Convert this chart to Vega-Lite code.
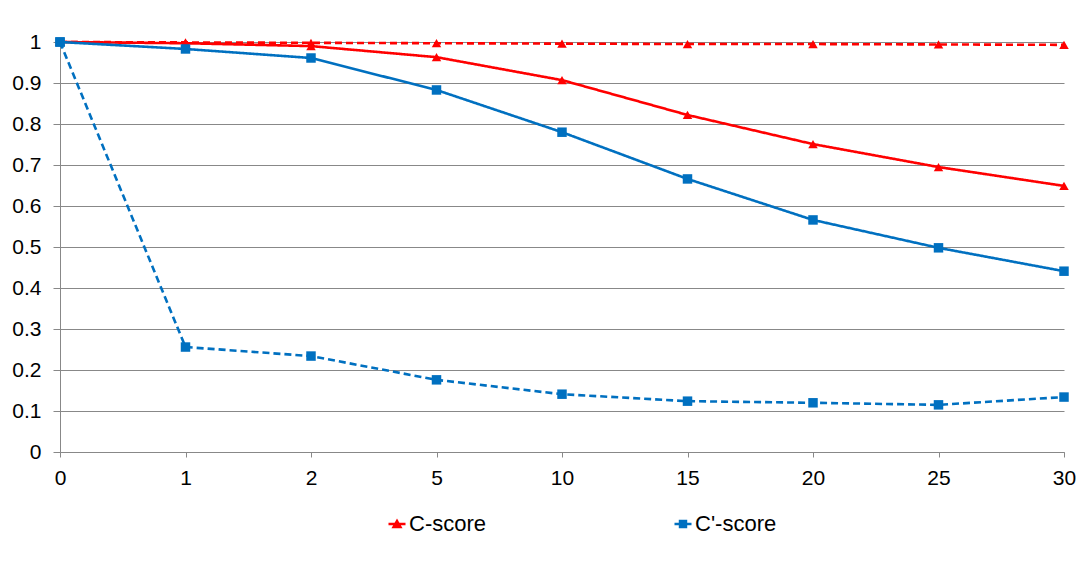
{
  "$schema": "https://vega.github.io/schema/vega-lite/v6.json",
  "autosize": "none",
  "width": 1004,
  "height": 410,
  "padding": {"left": 60, "top": 42, "right": 13, "bottom": 111},
  "background": "white",
  "config": {
    "view": {"stroke": null},
    "font": "Liberation Sans",
    "axis": {
      "labelFont": "Liberation Sans",
      "labelFontSize": 21,
      "labelColor": "#000000",
      "domainColor": "#888888",
      "tickColor": "#888888",
      "gridColor": "#888888",
      "gridOpacity": 1,
      "domainWidth": 1,
      "tickWidth": 1
    }
  },
  "data": {
    "values": [
      {"t": 0, "series": "C-score", "style": "solid", "v": 1},
      {"t": 1, "series": "C-score", "style": "solid", "v": 0.997},
      {"t": 2, "series": "C-score", "style": "solid", "v": 0.99},
      {"t": 5, "series": "C-score", "style": "solid", "v": 0.963},
      {"t": 10, "series": "C-score", "style": "solid", "v": 0.907},
      {"t": 15, "series": "C-score", "style": "solid", "v": 0.822},
      {"t": 20, "series": "C-score", "style": "solid", "v": 0.751},
      {"t": 25, "series": "C-score", "style": "solid", "v": 0.695},
      {"t": 30, "series": "C-score", "style": "solid", "v": 0.649},
      {"t": 0, "series": "C-score", "style": "dashed", "v": 1},
      {"t": 1, "series": "C-score", "style": "dashed", "v": 0.999},
      {"t": 2, "series": "C-score", "style": "dashed", "v": 0.998},
      {"t": 5, "series": "C-score", "style": "dashed", "v": 0.997},
      {"t": 10, "series": "C-score", "style": "dashed", "v": 0.996},
      {"t": 15, "series": "C-score", "style": "dashed", "v": 0.995},
      {"t": 20, "series": "C-score", "style": "dashed", "v": 0.995},
      {"t": 25, "series": "C-score", "style": "dashed", "v": 0.994},
      {"t": 30, "series": "C-score", "style": "dashed", "v": 0.993},
      {"t": 0, "series": "C'-score", "style": "solid", "v": 1},
      {"t": 1, "series": "C'-score", "style": "solid", "v": 0.983},
      {"t": 2, "series": "C'-score", "style": "solid", "v": 0.961},
      {"t": 5, "series": "C'-score", "style": "solid", "v": 0.883},
      {"t": 10, "series": "C'-score", "style": "solid", "v": 0.78},
      {"t": 15, "series": "C'-score", "style": "solid", "v": 0.666},
      {"t": 20, "series": "C'-score", "style": "solid", "v": 0.566},
      {"t": 25, "series": "C'-score", "style": "solid", "v": 0.498},
      {"t": 30, "series": "C'-score", "style": "solid", "v": 0.441},
      {"t": 0, "series": "C'-score", "style": "dashed", "v": 1},
      {"t": 1, "series": "C'-score", "style": "dashed", "v": 0.256},
      {"t": 2, "series": "C'-score", "style": "dashed", "v": 0.234},
      {"t": 5, "series": "C'-score", "style": "dashed", "v": 0.176},
      {"t": 10, "series": "C'-score", "style": "dashed", "v": 0.141},
      {"t": 15, "series": "C'-score", "style": "dashed", "v": 0.124},
      {"t": 20, "series": "C'-score", "style": "dashed", "v": 0.12},
      {"t": 25, "series": "C'-score", "style": "dashed", "v": 0.115},
      {"t": 30, "series": "C'-score", "style": "dashed", "v": 0.134}
    ]
  },
  "encoding": {
    "x": {
      "field": "t",
      "type": "ordinal",
      "sort": "ascending",
      "scale": {"type": "point", "padding": 0},
      "axis": {
        "title": null,
        "labelAngle": 0,
        "tickSize": 5,
        "labelPadding": 10,
        "grid": false
      }
    },
    "y": {
      "field": "v",
      "type": "quantitative",
      "scale": {"domain": [0, 1], "nice": false, "zero": true},
      "axis": {
        "title": null,
        "values": [0, 0.1, 0.2, 0.3, 0.4, 0.5, 0.6, 0.7, 0.8, 0.9, 1],
        "format": "~g",
        "tickSize": 7,
        "labelPadding": 12,
        "grid": true
      }
    },
    "color": {
      "field": "series",
      "type": "nominal",
      "scale": {"domain": ["C-score", "C'-score"], "range": ["#FF0000", "#0070C0"]}
    }
  },
  "layer": [
    {
      "mark": {"type": "line", "strokeWidth": 2.6},
      "encoding": {
        "detail": {"field": "style", "type": "nominal"},
        "strokeDash": {
          "field": "style",
          "type": "nominal",
          "scale": {"domain": ["solid", "dashed"], "range": [[1, 0], [7, 4]]},
          "legend": null
        },
        "color": {
          "field": "series",
          "type": "nominal",
          "scale": {"domain": ["C-score", "C'-score"], "range": ["#FF0000", "#0070C0"]},
          "legend": {
            "title": null,
            "orient": "none",
            "direction": "horizontal",
            "legendX": 326,
            "legendY": 471,
            "columnPadding": 182,
            "labelFontSize": 22,
            "labelFont": "Liberation Sans",
            "labelColor": "#000000",
            "labelOffset": 1,
            "symbolSize": 289,
            "symbolStrokeWidth": 2.5,
            "encode": {
              "symbols": {
                "update": {
                  "shape": {"signal": "datum.value === 'C-score' ? 'M-1,0H1M-0.4,0.35L0,-0.35L0.4,0.35Z' : 'M-1,0H1M-0.35,-0.35H0.35V0.35H-0.35Z'"},
                  "fill": {"signal": "datum.value === 'C-score' ? '#FF0000' : '#0070C0'"},
                  "stroke": {"signal": "datum.value === 'C-score' ? '#FF0000' : '#0070C0'"},
                  "strokeDash": {"value": [1, 0]},
                  "opacity": {"value": 1}
                }
              }
            }
          }
        }
      }
    },
    {
      "transform": [{"filter": "datum.series === 'C-score'"}],
      "mark": {"type": "point", "filled": true, "opacity": 1, "size": 90, "shape": "triangle-up"},
      "encoding": {
        "color": {
          "field": "series",
          "type": "nominal",
          "scale": {"domain": ["C-score", "C'-score"], "range": ["#FF0000", "#0070C0"]},
          "legend": null
        }
      }
    },
    {
      "transform": [{"filter": "datum.series === \"C'-score\""}],
      "mark": {"type": "point", "filled": true, "opacity": 1, "size": 90, "shape": "square"},
      "encoding": {
        "color": {
          "field": "series",
          "type": "nominal",
          "scale": {"domain": ["C-score", "C'-score"], "range": ["#FF0000", "#0070C0"]},
          "legend": null
        }
      }
    }
  ]
}
